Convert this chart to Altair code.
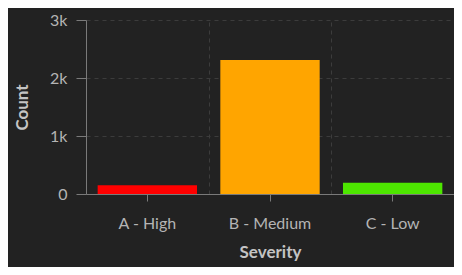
import altair as alt
import pandas as pd

categories = ["A - High", "B - Medium", "C - Low"]
counts = [150, 2310, 195]
colors = ["#ff0000", "#ffa500", "#4de600"]

df = pd.DataFrame({"Severity": categories, "Count": counts, "color": colors})

label_color = "#b4b4b4"
title_color = "#c4c4c4"
grid_color = "#3c3c3c"
domain_color = "#7a7a7a"
font = "Lato"

yscale = alt.Scale(domain=[0, 3000])
yaxis = alt.Axis(title="Count", values=[0, 1000, 2000, 3000],
                 labelExpr="datum.value == 0 ? '0' : format(datum.value, '~s')",
                 grid=True, gridDash=[4, 4], gridColor=grid_color,
                 tickSize=10, tickColor=domain_color, domainColor=domain_color,
                 labelPadding=9, labelFontSize=16, labelColor=label_color,
                 labelFont=font, titleFont=font, titleFontSize=17,
                 titleFontWeight="bold", titleColor=title_color,
                 titlePadding=18)

bars = alt.Chart(df).mark_bar().encode(
    x=alt.X("Severity:N", sort=categories,
            scale=alt.Scale(paddingInner=0.19, paddingOuter=0.095),
            axis=alt.Axis(title="Severity", labelAngle=0, grid=False,
                          tickSize=7, tickColor=domain_color, domainColor=domain_color,
                          labelPadding=14, labelFontSize=16, labelColor=label_color,
                          labelFont=font, titleFont=font, titleFontSize=17,
                          titleFontWeight="bold", titleColor=title_color,
                          titlePadding=13)),
    y=alt.Y("Count:Q", scale=yscale, axis=yaxis),
    color=alt.Color("color:N", scale=None, legend=None),
)

vgrid = alt.Chart(df).mark_bar(opacity=0).encode(
    x=alt.X("Severity:N", sort=categories,
            scale=alt.Scale(paddingInner=0, paddingOuter=0),
            axis=alt.Axis(orient="top", title=None, labels=False, ticks=False,
                          domain=False, grid=True, gridDash=[4, 4],
                          gridColor=grid_color, tickBand="extent")),
    y=alt.Y("Count:Q", scale=yscale, axis=yaxis),
)

chart = alt.layer(bars, vgrid).resolve_scale(x="independent").resolve_axis(x="independent").properties(
    width=368, height=174,
    autosize=alt.AutoSizeParams(type="none"),
    padding={"left": 78, "top": 12, "right": 0, "bottom": 73},
    background="#222222",
).configure_view(stroke=None)

chart.save("out.html", embed_options={"renderer": "svg", "actions": False})
